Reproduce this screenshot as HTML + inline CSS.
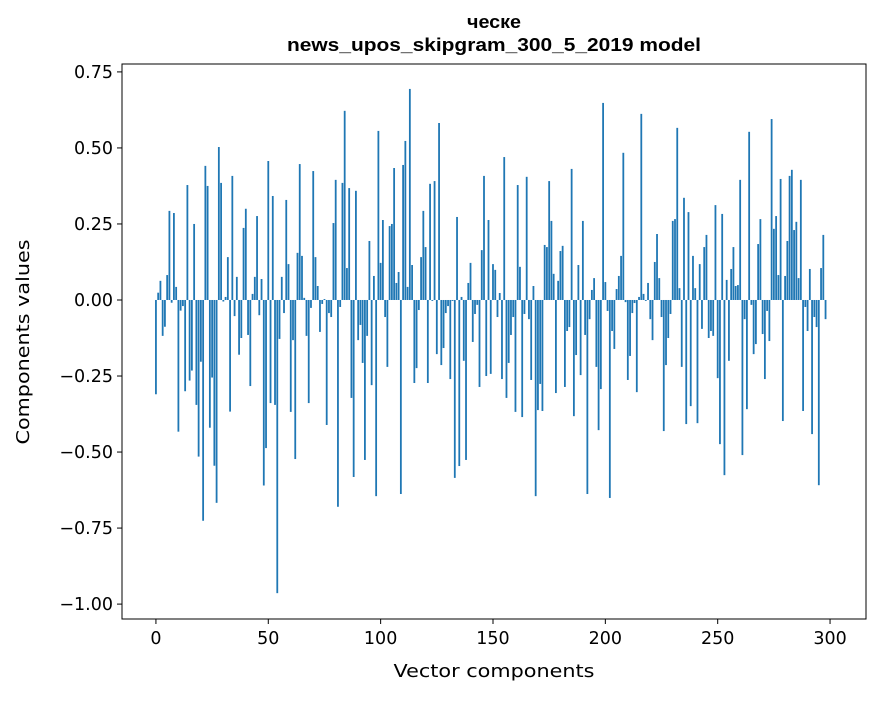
<!DOCTYPE html>
<html><head><meta charset="utf-8"><style>
body{margin:0;background:#fff;}
svg text{font-family:"DejaVu Sans","Liberation Sans",sans-serif;}
svg text.title{font-family:"Liberation Sans","DejaVu Sans",sans-serif;font-weight:bold;}
</style></head><body>
<svg id="chart" width="880" height="696" xmlns="http://www.w3.org/2000/svg">
<text class="title" x="494" y="28" text-anchor="middle" font-size="18" textLength="54" lengthAdjust="spacingAndGlyphs">ческе</text>
<text class="title" x="494" y="51" text-anchor="middle" font-size="18" textLength="414" lengthAdjust="spacingAndGlyphs">news_upos_skipgram_300_5_2019 model</text>
<g id="bars"></g>
<rect x="122" y="64" width="744" height="555" fill="none" stroke="#000" stroke-width="1"/>
<g id="xticks"></g>
<g id="yticks"></g>
<text x="494" y="677" text-anchor="middle" font-size="17.5" textLength="201" lengthAdjust="spacingAndGlyphs">Vector components</text>
<text transform="translate(29,342) rotate(-90)" text-anchor="middle" font-size="17.5" textLength="205" lengthAdjust="spacingAndGlyphs">Components values</text>
</svg>
<script>
const values = [
-0.31,0.024,0.063,-0.118,-0.088,0.082,0.293,-0.009,0.286,0.043,
-0.433,-0.035,-0.02,-0.30,0.378,-0.265,-0.232,0.25,-0.345,-0.515,
-0.203,-0.726,0.441,0.375,-0.42,-0.255,-0.545,-0.667,0.503,0.385,
-0.005,0.01,0.141,-0.367,
0.408,-0.053,0.076,-0.18,-0.125,0.237,0.30,-0.115,-0.283,0.02,
0.076,0.276,-0.05,0.069,-0.61,-0.487,0.457,-0.339,0.342,-0.345,
-0.964,-0.128,0.076,-0.043,0.329,0.118,-0.368,-0.132,-0.523,0.155,
0.447,0.145,0.007,-0.118,-0.339,-0.026,0.424,0.141,0.046,-0.105,-0.013,
0.003,-0.411,-0.043,-0.056,0.253,0.395,-0.68,-0.023,0.385,0.622,
0.105,0.368,-0.322,-0.582,0.359,-0.132,-0.082,-0.207,-0.526,-0.118,
0.194,-0.28,0.079,-0.645,0.556,0.122,0.263,-0.056,-0.22,0.243,
0.25,0.434,0.056,0.092,-0.638,0.444,0.523,0.043,0.694,0.115,
-0.273,-0.224,-0.033,0.141,0.293,0.174,-0.273,0.382,-0.003,0.391,
-0.178,0.582,-0.214,-0.158,-0.043,-0.02,-0.26,-0.003,-0.585,0.273,
-0.546,0.01,-0.2,-0.526,0.056,0.122,-0.138,-0.046,-0.016,-0.286,
0.164,0.408,-0.25,0.263,-0.243,0.118,
0.099,-0.056,0.023,-0.26,0.47,-0.322,-0.207,-0.115,-0.056,-0.368,
0.378,0.109,-0.385,-0.046,0.405,-0.063,-0.263,0.046,-0.645,-0.362,
-0.276,-0.365,0.181,0.174,0.391,0.26,0.086,-0.306,0.063,0.161,
0.178,-0.286,-0.102,-0.089,0.431,-0.382,-0.181,0.115,-0.247,0.26,
-0.115,-0.638,-0.063,0.033,0.072,-0.22,-0.428,-0.293,0.648,0.059,
-0.036,-0.651,-0.102,-0.161,0.036,0.079,0.145,0.484,-0.007,-0.263,
-0.184,-0.043,-0.01,-0.303,0.01,0.612,0.02,-0.003,0.056,-0.063,
-0.132,0.125,0.217,0.072,-0.056,
-0.431,-0.214,-0.125,-0.046,0.26,0.266,0.566,0.039,-0.22,0.336,
-0.408,0.289,-0.349,0.145,0.039,-0.405,0.118,-0.095,0.174,0.214,
-0.125,-0.102,-0.118,0.312,-0.257,-0.474,0.283,-0.576,0.066,
-0.2,0.102,0.174,0.046,0.049,0.395,-0.51,-0.063,-0.359,0.553,
-0.016,-0.178,-0.145,0.184,0.266,-0.112,-0.26,-0.036,-0.135,0.595,
0.234,0.276,0.082,0.398,-0.398,0.079,0.194,0.408,0.428,0.23,
0.257,0.072,0.395,-0.365,-0.023,-0.102,0.102,-0.441,-0.056,-0.089,
-0.609,0.105,0.214,-0.063
];
const xTickValues = [0,50,100,150,200,250,300];
const xTickLabels = ["0","50","100","150","200","250","300"];
const yTickValues = [0.75,0.5,0.25,0,-0.25,-0.5,-0.75,-1.0];
const yTickLabels = ["0.75","0.50","0.25","0.00","\u22120.25","\u22120.50","\u22120.75","\u22121.00"];

const NS = "http://www.w3.org/2000/svg";
const X0 = 122, X1 = 866, Y0 = 64, Y1 = 619;
const xMin = -15.1, xMax = 316.0, yMin = -1.049, yMax = 0.776;
function xs(v){ return X0 + (v - xMin) / (xMax - xMin) * (X1 - X0); }
function ys(v){ return Y1 - (v - yMin) / (yMax - yMin) * (Y1 - Y0); }

const barsG = document.getElementById('bars');
values.forEach(function(v, i){
  const r = document.createElementNS(NS, 'rect');
  const xl = xs(i - 0.4), xr = xs(i + 0.4);
  const yt = ys(Math.max(v, 0)), yb = ys(Math.min(v, 0));
  r.setAttribute('x', xl);
  r.setAttribute('width', xr - xl);
  r.setAttribute('y', yt);
  r.setAttribute('height', Math.max(yb - yt, 0.3));
  r.setAttribute('fill', '#1f77b4');
  
  
  barsG.appendChild(r);
});

const xg = document.getElementById('xticks');
xTickValues.forEach(function(v, k){
  const x = xs(v);
  const l = document.createElementNS(NS, 'line');
  l.setAttribute('x1', x); l.setAttribute('x2', x);
  l.setAttribute('y1', Y1); l.setAttribute('y2', Y1 + 5);
  l.setAttribute('stroke', '#000');
  
  
  xg.appendChild(l);
  const t = document.createElementNS(NS, 'text');
  t.setAttribute('x', x); t.setAttribute('y', Y1 + 25);
  t.setAttribute('text-anchor', 'middle'); t.setAttribute('font-size', '17.5');
  t.textContent = xTickLabels[k];
  
  
  xg.appendChild(t);
});

const yg = document.getElementById('yticks');
yTickValues.forEach(function(v, k){
  const y = ys(v);
  const l = document.createElementNS(NS, 'line');
  l.setAttribute('x1', X0 - 5); l.setAttribute('x2', X0);
  l.setAttribute('y1', y); l.setAttribute('y2', y);
  l.setAttribute('stroke', '#000');
  
  
  yg.appendChild(l);
  const t = document.createElementNS(NS, 'text');
  t.setAttribute('x', X0 - 9); t.setAttribute('y', y + 6);
  t.setAttribute('text-anchor', 'end'); t.setAttribute('font-size', '17.5');
  t.textContent = yTickLabels[k];
  
  
  yg.appendChild(t);
});
</script>
</body></html>
